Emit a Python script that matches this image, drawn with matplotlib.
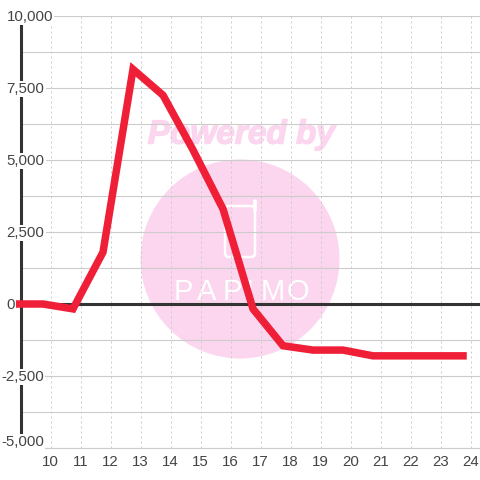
import matplotlib
matplotlib.use('Agg')
import matplotlib.pyplot as plt
import matplotlib.patheffects as pe
from matplotlib.patches import Circle, FancyBboxPatch

# data
hours = [8.75, 9.75, 10.75, 11.75, 12.75, 13.75, 14.75, 15.75, 16.75, 17.75,
         18.75, 19.75, 20.75, 21.75, 22.75, 23.75]
values = [0, 0, -170, 1800, 8150, 7250, 5350, 3300, -170, -1450,
          -1600, -1600, -1800, -1800, -1800, -1800]
x_ticks = [10, 11, 12, 13, 14, 15, 16, 17, 18, 19, 20, 21, 22, 23, 24]
y_ticks = [-5000, -2500, 0, 2500, 5000, 7500, 10000]
y_minor = [-3750, -1250, 1250, 3750, 6250, 8750]
y_labels = ['-5,000', '-2,500', '0', '2,500', '5,000', '7,500', '10,000']

TEXT = '#444444'
GRID = '#cccccc'
DARK = '#333333'
RED = '#f01f38'
PINK = '#fbd6ee'

plt.rcParams['font.family'] = ['Liberation Sans', 'DejaVu Sans']

fig = plt.figure(figsize=(4.8, 4.8), dpi=100)

# watermark sits under the chart, drawn in pixel coordinates
bg = fig.add_axes([0, 0, 1, 1], zorder=0)
bg.set_xlim(0, 480)
bg.set_ylim(480, 0)
bg.axis('off')
bg.add_patch(Circle((240, 259), 99.5, fc=PINK, ec='none'))
bg.add_patch(FancyBboxPatch((225, 206), 30, 51, boxstyle='round,pad=0,rounding_size=4',
                            fc='none', ec='white', lw=1.8))
bg.plot([255, 255], [201, 210], color='white', lw=2.6, solid_capstyle='round')
bg.text(241.5, 135, 'Powered by', color=PINK, fontsize=24, fontweight='bold',
        fontstyle='italic', ha='center', va='center',
        path_effects=[pe.withStroke(linewidth=1, foreground=PINK)])
for ch, cx in zip('PAPIMO', [183, 207, 232, 249, 273, 298]):
    bg.text(cx, 292, ch, color='white', fontsize=21, ha='center', va='center')

ax = fig.add_axes([20.5 / 480, 1 - 448 / 480, 459.5 / 480, 432 / 480], zorder=1)
ax.patch.set_visible(False)
ax.set_xlim(9, 9 + 459.5 / 30)
ax.set_ylim(-5000, 10000)

ax.set_axisbelow(True)
ax.set_xticks(x_ticks)
ax.set_yticks(y_ticks)
ax.set_yticks(y_minor, minor=True)
ax.set_yticklabels([])
ax.tick_params(axis='both', which='both', length=0)
ax.tick_params(axis='x', labelsize=10.8, labelcolor=TEXT, pad=5)
ax.grid(axis='y', which='both', color=GRID, lw=0.8)
ax.grid(axis='x', color=GRID, lw=0.72, ls=(0, (2, 3)))

for side in ['top', 'right']:
    ax.spines[side].set_visible(False)
ax.spines['bottom'].set_color(GRID)
ax.spines['bottom'].set_linewidth(0.8)
ax.spines['left'].set_color(DARK)
ax.spines['left'].set_linewidth(2.2)
ax.spines['left'].set_bounds(-4620, 9720)
ax.spines['left'].set_zorder(4)

ax.axhline(0, color=DARK, lw=2.2, zorder=3)
# the line starts just left of the axis, so no clipping
ax.plot(hours, values, color=RED, lw=5.4, solid_joinstyle='miter', solid_capstyle='projecting',
        zorder=4.5, clip_on=False)

# y labels are left aligned with a white box that breaks the axis line
for v, lab in zip(y_ticks, y_labels):
    dx = -19.5 if v < 0 else -14
    dy = 6 if v == -5000 else -1
    ax.annotate(lab, (9, v), xytext=(dx, dy), textcoords='offset pixels', ha='left', va='center',
                fontsize=10.8, color=TEXT, zorder=5, annotation_clip=False,
                bbox=dict(fc='white', ec='none', pad=1))

fig.savefig('out.png', dpi=100)
